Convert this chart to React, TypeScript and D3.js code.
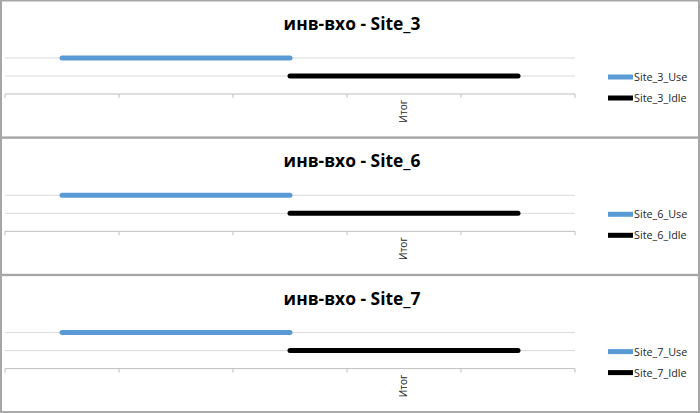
import React from "react";
import * as d3 from "d3";

const sites = ["Site_3", "Site_6", "Site_7"];
const titlePrefix = "инв-вхо - ";
const categories = ["", "", "", "Итог", ""];
const useValues: (number | null)[] = [2, 2, 2, null, null];
const idleValues: (number | null)[] = [null, null, 1, 1, 1];
const seriesSuffixes = ["_Use", "_Idle"];
const seriesColors = ["#5B9BD5", "#000000"];

const W = 700;
const panelH = 137;

function Panel({ site, top }: { site: string; top: number }) {
  const x = d3.scaleBand<number>().domain(categories.map((_, i) => i)).range([5, 575]).padding(0);
  const y = d3.scaleLinear().domain([0, 2]).range([94, 58]);
  const cx = (i: number) => (x(i) as number) + x.bandwidth() / 2;
  const line = d3
    .line<number | null>()
    .defined((d) => d !== null)
    .x((_, i) => cx(i))
    .y((d) => y(d as number));
  const series = [useValues, idleValues];
  const tickXs = categories.map((_, i) => x(i) as number).concat([575]);
  return (
    <g transform={`translate(0,${top})`}>
      <rect x={1} y={0.5} width={W - 2} height={panelH} fill="#fff" stroke="#A6A6A6" strokeWidth={2} />
      <text
        x={352}
        y={30}
        textAnchor="middle"
        fontFamily="'Open Sans', sans-serif"
        fontWeight="bold"
        fontSize={17.4}
        fill="#000"
      >
        {titlePrefix + site}
      </text>
      {[1, 2].map((v) => (
        <line key={v} x1={5} x2={575} y1={y(v)} y2={y(v)} stroke="#D9D9D9" strokeWidth={1} />
      ))}
      <line x1={5} x2={575} y1={y(0)} y2={y(0)} stroke="#BFBFBF" strokeWidth={1} />
      {tickXs.map((tx, i) => (
        <line key={i} x1={tx} x2={tx} y1={y(0)} y2={y(0) + 4} stroke="#BFBFBF" strokeWidth={1} />
      ))}
      {categories.map((c, i) =>
        c ? (
          <text
            key={i}
            transform={`translate(${cx(i) + 3},${y(0) + 6}) rotate(-90)`}
            textAnchor="end"
            fontFamily="'Open Sans', sans-serif"
            fontSize={10}
            fill="#262626"
          >
            {c}
          </text>
        ) : null
      )}
      {series.map((s, k) => (
        <path
          key={k}
          d={line(s) || ""}
          fill="none"
          stroke={seriesColors[k]}
          strokeWidth={5}
          strokeLinecap="round"
          strokeLinejoin="round"
        />
      ))}
      {seriesSuffixes.map((suf, k) => (
        <g key={suf} transform={`translate(608,${77 + k * 21})`}>
          <line x1={0} x2={25} y1={0} y2={0} stroke={seriesColors[k]} strokeWidth={5} />
          <text x={26} y={4} fontFamily="'Open Sans', sans-serif" fontSize={10.8} fill="#262626">
            {site + suf}
          </text>
        </g>
      ))}
    </g>
  );
}

export default function App() {
  return (
    <svg width={W} height={413} style={{ position: "absolute", left: 0, top: 0 }}>
      <rect x={0} y={0} width={W} height={413} fill="#fff" />
      {sites.map((s, i) => (
        <Panel key={s} site={s} top={i * 137.3} />
      ))}
    </svg>
  );
}
